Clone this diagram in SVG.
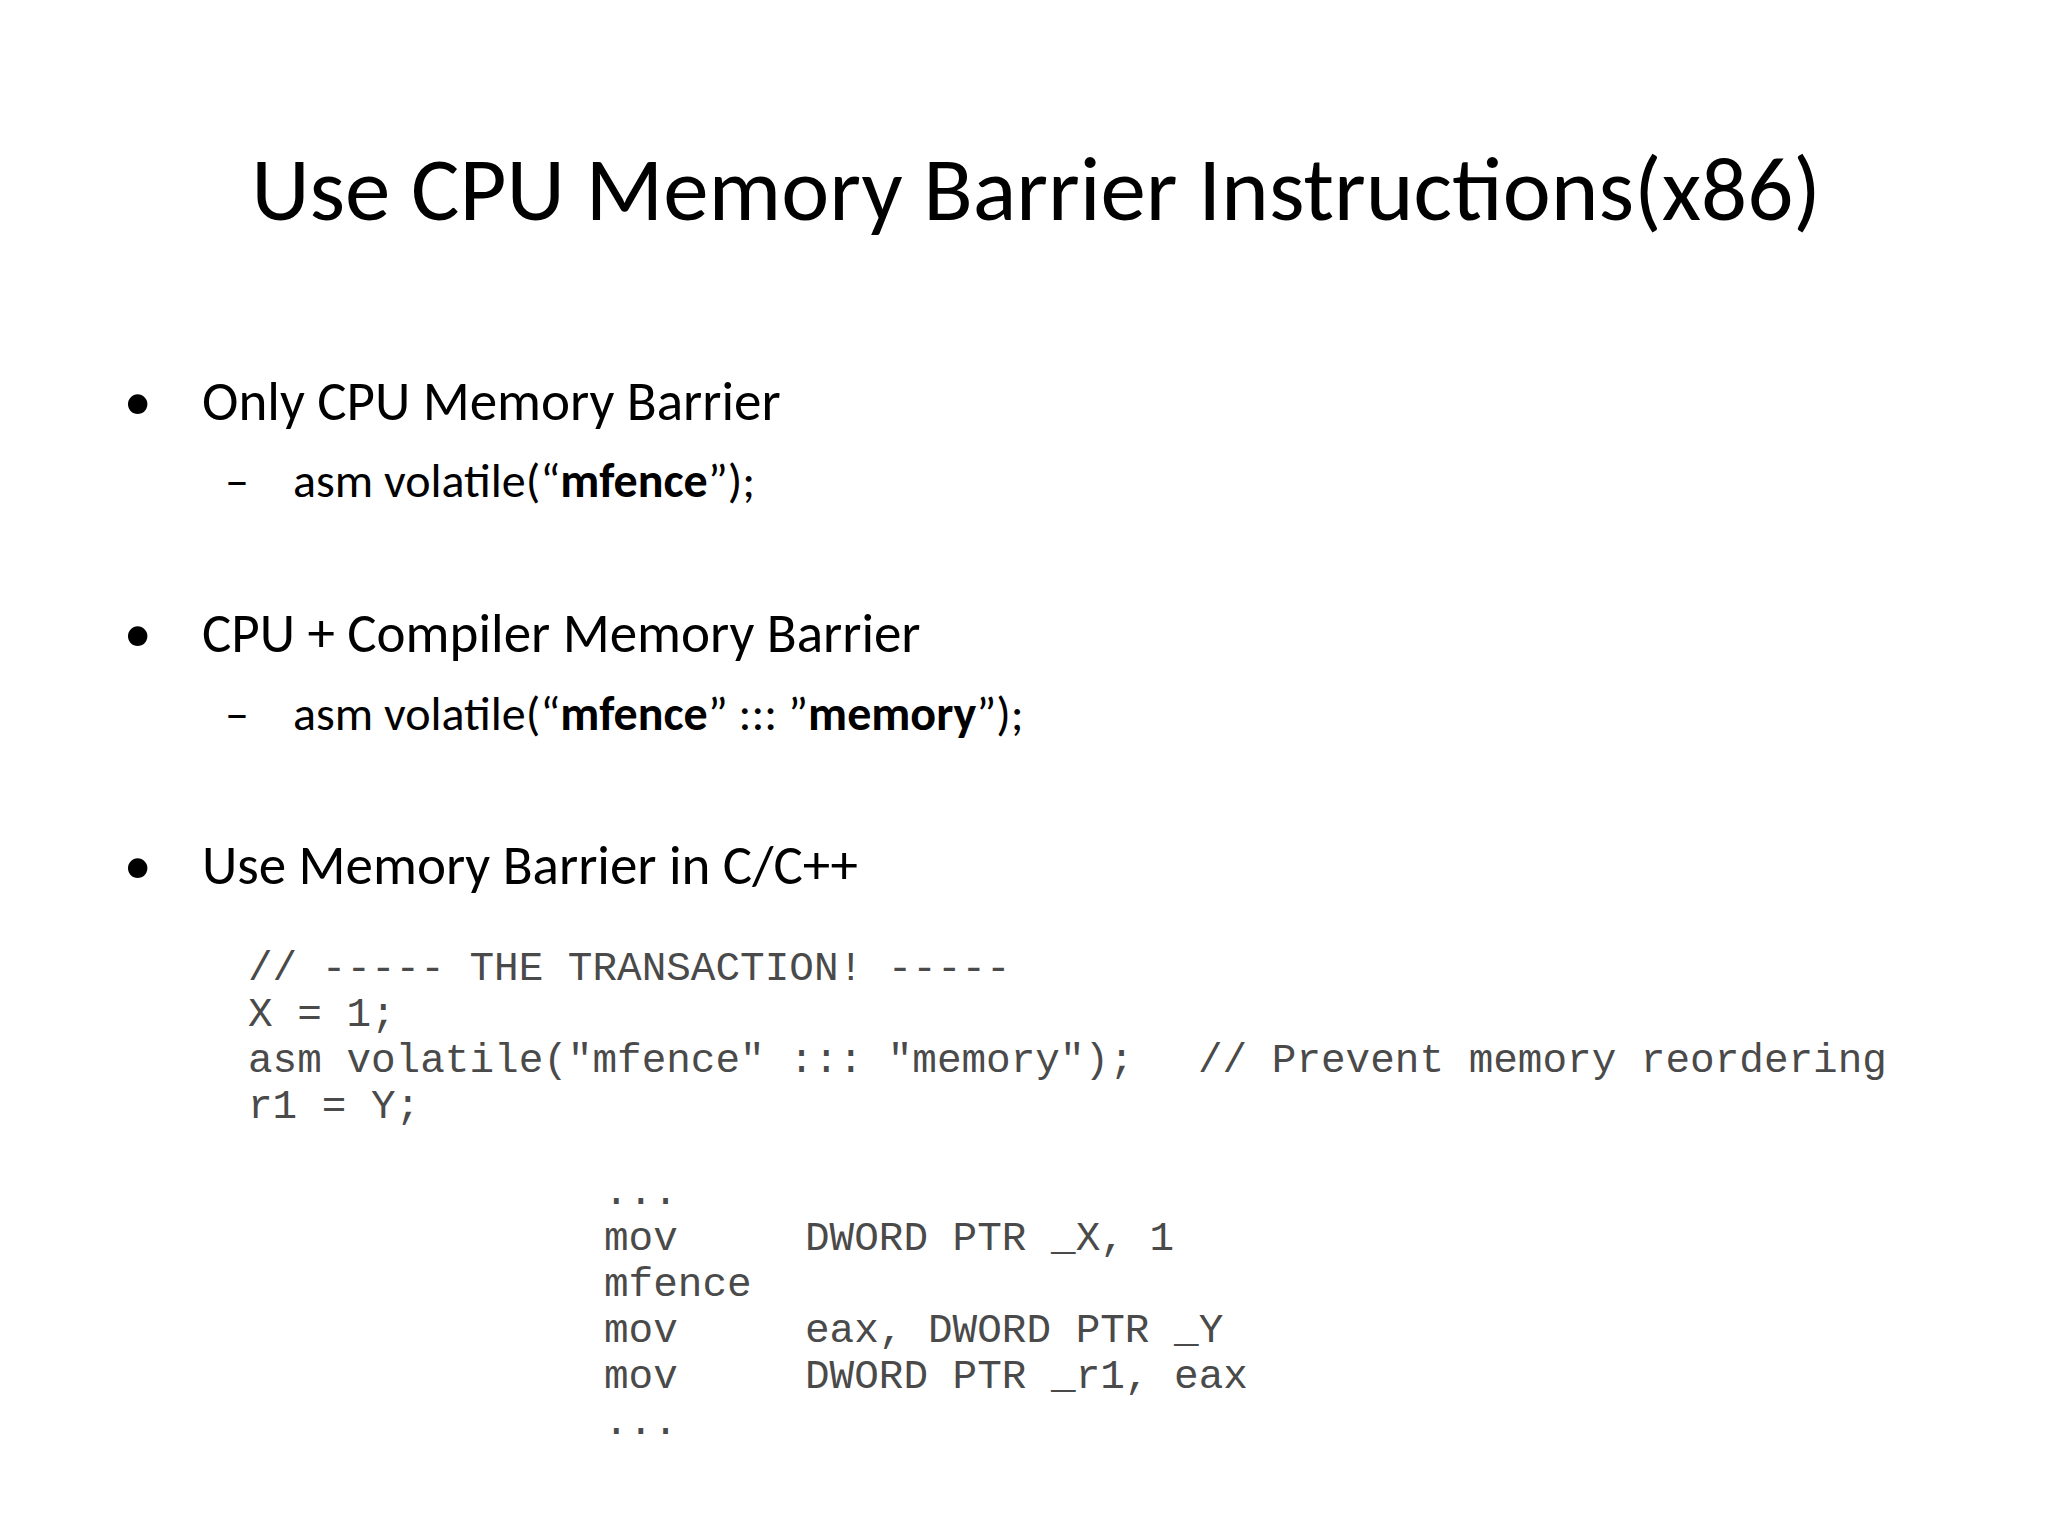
<svg xmlns="http://www.w3.org/2000/svg" width="2048" height="1536" viewBox="0 0 2048 1536">
<style>
.s{font-family:Calibri,"Carlito",Lato,"Liberation Sans",sans-serif;fill:#000}
.c{font-family:"Liberation Mono","DejaVu Sans Mono",monospace;font-size:41px;fill:#4a4a4a}
</style>
<rect width="2048" height="1536" fill="#fff"/>
<text class="s" x="1036" y="220" font-size="91" text-anchor="middle">Use CPU Memory Barrier Instructions(x86)</text>
<g class="s" font-size="55">
<text x="124" y="420">•</text><text x="202" y="420">Only CPU Memory Barrier</text>
<text x="124" y="652">•</text><text x="202" y="652">CPU + Compiler Memory Barrier</text>
<text x="124" y="884">•</text><text x="202" y="884">Use Memory Barrier in C/C++</text>
</g>
<g class="s" font-size="48">
<text x="225" y="497">–</text><text x="293" y="497">asm volatile(“<tspan font-weight="bold">mfence</tspan>”);</text>
<text x="225" y="730">–</text><text x="293" y="730">asm volatile(“<tspan font-weight="bold">mfence</tspan>” ::: ”<tspan font-weight="bold">memory</tspan>”);</text>
</g>
<g class="c">
<text x="248" y="980">// ----- THE TRANSACTION! -----</text>
<text x="248" y="1026">X = 1;</text>
<text x="248" y="1072">asm volatile("mfence" ::: "memory");</text>
<text x="1198" y="1072">// Prevent memory reordering</text>
<text x="248" y="1118">r1 = Y;</text>
<text x="604" y="1204">...</text>
<text x="604" y="1250">mov</text><text x="805" y="1250">DWORD PTR _X, 1</text>
<text x="604" y="1296">mfence</text>
<text x="604" y="1342">mov</text><text x="805" y="1342">eax, DWORD PTR _Y</text>
<text x="604" y="1388">mov</text><text x="805" y="1388">DWORD PTR _r1, eax</text>
<text x="604" y="1434">...</text>
</g>
</svg>
